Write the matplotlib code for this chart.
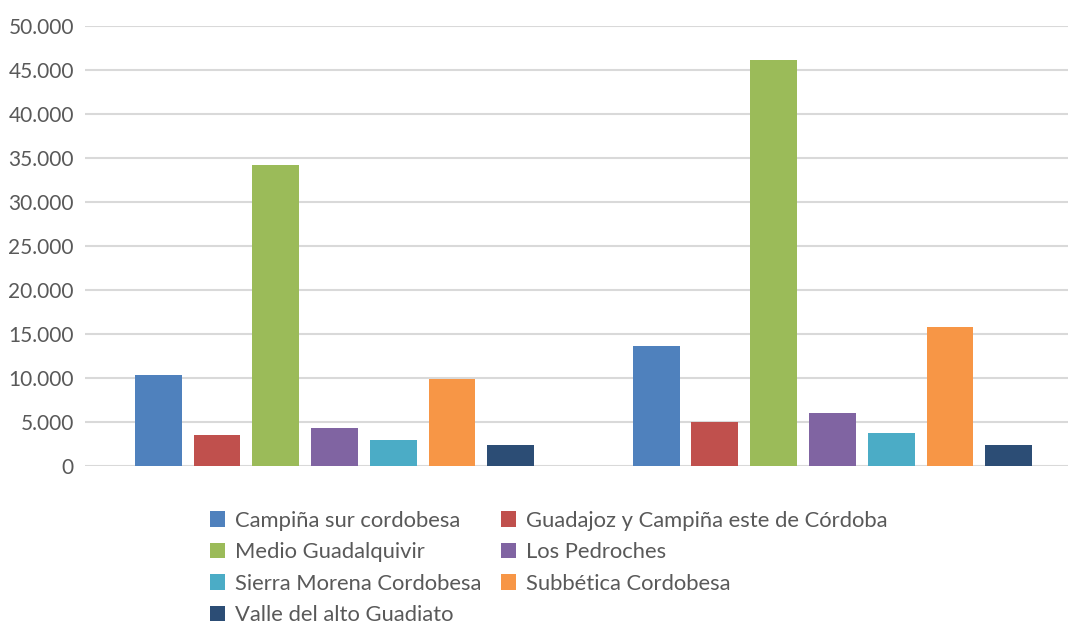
import matplotlib
matplotlib.use('Agg')
import matplotlib.pyplot as plt
from matplotlib.ticker import FuncFormatter
import numpy as np

plt.rcParams['font.family'] = ['Lato', 'DejaVu Sans']

groups = ['2009', '2019']
series = ['Campiña sur cordobesa', 'Guadajoz y Campiña este de Córdoba',
          'Medio Guadalquivir', 'Los Pedroches', 'Sierra Morena Cordobesa',
          'Subbética Cordobesa', 'Valle del alto Guadiato']
values = [
    [10300, 13600],
    [3500, 4970],
    [34200, 46100],
    [4300, 6000],
    [2900, 3720],
    [9850, 15750],
    [2350, 2350],
]
colors = ['#4f81bd', '#c0504d', '#9bbb59', '#8064a2', '#4bacc6', '#f79646', '#2c4d75']

fig = plt.figure(figsize=(10.7, 6.26), dpi=100)
ax = fig.add_axes([0.0794, 0.256, 0.9187, 0.703])

x = np.arange(len(groups))
pitch = 0.118
width = 0.094
for i, (name, vals, c) in enumerate(zip(series, values, colors)):
    ax.bar(x + (i - 3) * pitch, vals, width=width, color=c, label=name, zorder=3)

ax.set_ylim(0, 50000)
ax.set_yticks(range(0, 50001, 5000))
ax.yaxis.set_major_formatter(FuncFormatter(lambda v, p: f'{int(v):,}'.replace(',', '.')))
ax.set_xlim(-0.501, 1.473)
ax.set_xticks([])
ax.grid(axis='y', color='#d9d9d9', linewidth=1.5, zorder=0)
for s in ax.spines.values():
    s.set_visible(False)
ax.tick_params(axis='y', length=0, labelsize=15, labelcolor='#595959', pad=8)

# legend reads row by row in the original
h, l = ax.get_legend_handles_labels()
order = [0, 2, 4, 6, 1, 3, 5]
leg = fig.legend([h[i] for i in order], [l[i] for i in order],
                 loc='upper left', bbox_to_anchor=(0.196, 0.184), ncol=2,
                 frameon=False, fontsize=15.8, handlelength=0.7, handleheight=0.7,
                 handletextpad=0.45, columnspacing=0.9, labelspacing=0.52,
                 borderaxespad=0, borderpad=0)
for t in leg.get_texts():
    t.set_color('#595959')

fig.savefig('out.png', dpi=100)
